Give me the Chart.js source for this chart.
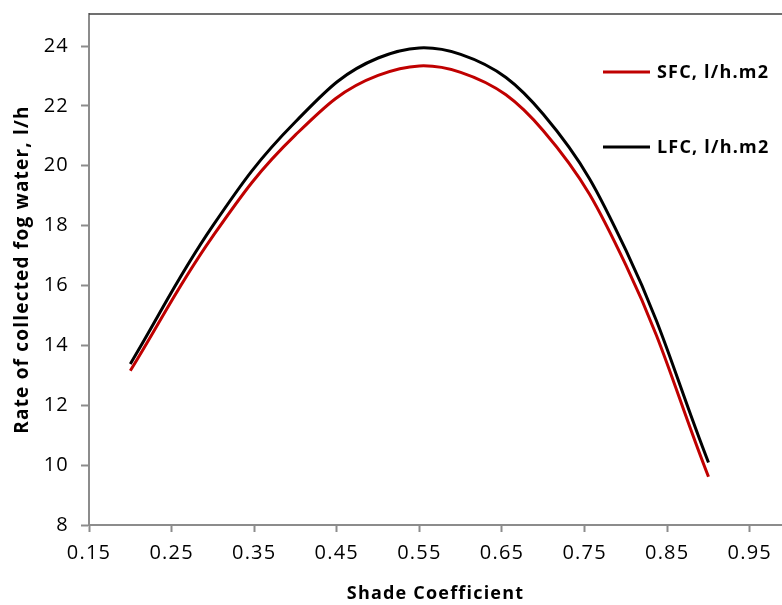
<!DOCTYPE html>
<html>
<head>
<meta charset="utf-8">
<script src="https://cdn.jsdelivr.net/npm/chart.js@4.4.1/dist/chart.umd.min.js"></script>
<style>
  body { margin: 0; background: #fff; }
  #wrap { width: 782px; height: 605px; }
</style>
</head>
<body>
<div id="wrap"><canvas id="myChart"></canvas></div>
<script>
// values
const shadeCoef = [0.2, 0.3, 0.4, 0.5, 0.6, 0.7, 0.8, 0.9];
const sfc = [13.15, 17.65, 21.03, 23.02, 23.12, 21.17, 16.68, 9.61];
const lfc = [13.38, 18.0, 21.47, 23.6, 23.72, 21.72, 17.18, 10.09];
const xTicks = [0.15, 0.25, 0.35, 0.45, 0.55, 0.65, 0.75, 0.85, 0.95];
const yTicks = [8, 10, 12, 14, 16, 18, 20, 22, 24];
const seriesNames = ["SFC, l/h.m2", "LFC, l/h.m2"];

const fontFam = "'Open Sans', Lato, sans-serif";
const axisGray = "#8c8c8c";
const spacing = "1.2px";

function toPoints(ys) {
    return shadeCoef.map((x, i) => ({ x: x, y: ys[i] }));
}

// letter spacing like the original, top frame line, legend on the right
const extras = {
    id: "extras",
    beforeLayout(chart) {
        chart.ctx.letterSpacing = spacing;
    },
    beforeDraw(chart) {
        chart.ctx.letterSpacing = spacing;
    },
    afterDraw(chart) {
        const ctx = chart.ctx;
        const a = chart.chartArea;
        ctx.save();
        ctx.strokeStyle = "#404040";
        ctx.lineWidth = 1.5;
        ctx.beginPath();
        ctx.moveTo(a.left, a.top);
        ctx.lineTo(a.right, a.top);
        ctx.stroke();

        const rows = [72, 147];
        chart.data.datasets.forEach((ds, i) => {
            ctx.strokeStyle = ds.borderColor;
            ctx.lineWidth = 3;
            ctx.beginPath();
            ctx.moveTo(603, rows[i]);
            ctx.lineTo(650, rows[i]);
            ctx.stroke();
            ctx.fillStyle = "#000";
            ctx.font = "bold 18px " + fontFam;
            ctx.textBaseline = "middle";
            ctx.textAlign = "left";
            ctx.fillText(ds.label, 657, rows[i] + 1);
        });
        ctx.restore();
    }
};

const config = {
    type: "line",
    data: {
        datasets: [{
            label: seriesNames[0],
            data: toPoints(sfc),
            borderColor: "#c00000",
            borderWidth: 3,
            pointRadius: 0,
            tension: 0.4,
            fill: false
        }, {
            label: seriesNames[1],
            data: toPoints(lfc),
            borderColor: "#000000",
            borderWidth: 3,
            pointRadius: 0,
            tension: 0.4,
            fill: false
        }]
    },
    options: {
        responsive: true,
        maintainAspectRatio: false,
        animation: false,
        layout: { padding: { top: 14, right: 0, bottom: 0, left: 0 } },
        plugins: {
            legend: { display: false },
            tooltip: { enabled: false }
        },
        scales: {
            x: {
                type: "linear",
                min: 0.15,
                max: 0.989,
                afterBuildTicks: (scale) => { scale.ticks = xTicks.map(v => ({ value: v })); },
                afterFit: (scale) => {
                    scale.height = 80;
                    scale.paddingLeft = 0;
                    scale.paddingRight = 0;
                },
                grid: {
                    drawOnChartArea: false,
                    drawTicks: true,
                    tickLength: 7,
                    tickColor: axisGray,
                    tickWidth: 2
                },
                border: { color: axisGray, width: 2 },
                ticks: {
                    color: "#000",
                    padding: 9,
                    font: { family: fontFam, size: 20 },
                    callback: (v) => v.toFixed(2)
                },
                title: {
                    display: true,
                    text: "Shade Coefficient",
                    color: "#000",
                    padding: { top: 0, bottom: 0 },
                    font: { family: fontFam, size: 18, weight: "bold" }
                }
            },
            y: {
                min: 8,
                max: 25.07,
                afterBuildTicks: (scale) => { scale.ticks = yTicks.map(v => ({ value: v })); },
                afterFit: (scale) => {
                    scale.width = 89;
                    scale.paddingTop = 0;
                    scale.paddingBottom = 0;
                },
                grid: {
                    drawOnChartArea: false,
                    drawTicks: true,
                    tickLength: 8,
                    tickColor: axisGray,
                    tickWidth: 2
                },
                border: { color: axisGray, width: 2 },
                ticks: {
                    color: "#000",
                    padding: 12,
                    font: { family: fontFam, size: 20 }
                },
                title: {
                    display: true,
                    text: "Rate of collected fog water, l/h",
                    color: "#000",
                    padding: { top: 11, bottom: 0 },
                    font: { family: fontFam, size: 19, weight: "bold" }
                }
            }
        }
    },
    plugins: [extras]
};

const myChart = document.getElementById("myChart");
let chart = new Chart(myChart, config);
</script>
</body>
</html>
